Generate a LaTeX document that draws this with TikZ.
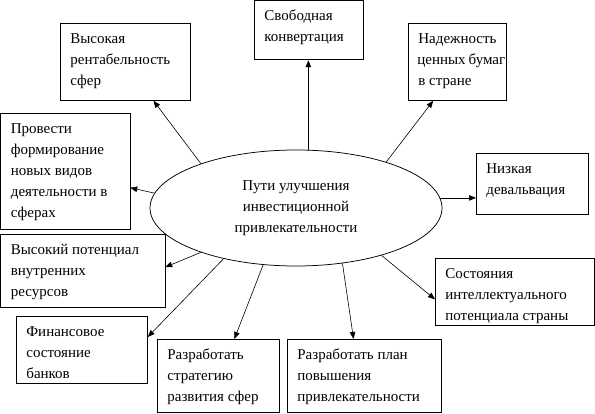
\documentclass[tikz,border=0pt]{standalone}
\usepackage{fontspec}
\setmainfont{Liberation Serif}
\newfontfamily\tnr{Liberation Serif}
\usetikzlibrary{shapes.geometric,arrows.meta,calc}
\newcommand{\bt}[3]{\parbox[c][#2][t]{#1}{\raggedright\leftskip=10pt\hfuzz=20pt\rule{0pt}{20pt}#3}}
\begin{document}
\begin{tikzpicture}[x=1pt,y=-1pt,
  every node/.style={font=\tnr\fontsize{15}{21}\selectfont},
  box/.style={draw, anchor=north west, inner sep=0pt, line width=0.75pt},
  arr/.style={-{Triangle[length=7pt,width=5.5pt]}, line width=0.6pt}]
\useasboundingbox (0,0) rectangle (595,414);
\node[draw, ellipse, line width=0.75pt, minimum width=292pt, minimum height=116pt, inner sep=0pt, align=center] (e) at (296,208) {Пути улучшения\\инвестиционной\\привлекательности};
\node[box] (b1) at (60,23) {\bt{130pt}{77pt}{Высокая\\рентабельность\\сфер}};
\node[box] (b2) at (254,0.5) {\bt{109pt}{59pt}{Свободная\\конвертация}};
\node[box] (b3) at (408,23) {\bt{98pt}{77pt}{Надежность\\\hspace*{-1pt}ценных\hspace{3pt}бумаг\\в~стране}};
\node[box] (b4) at (476,153) {\bt{112pt}{61pt}{Низкая\\девальвация}};
\node[box] (b5) at (0.5,113) {\bt{129pt}{116pt}{Провести\\формирование\\новых~видов\\деятельности~в\\сферах}};
\node[box] (b6) at (0.5,234) {\bt{164pt}{73pt}{Высокий~потенциал\\внутренних\\ресурсов}};
\node[box] (b7) at (16,316) {\bt{131pt}{67pt}{Финансовое\\состояние\\банков}};
\node[box] (b8) at (157,339) {\bt{122pt}{73pt}{Разработать\\стратегию\\развития~сфер}};
\node[box] (b9) at (287,339) {\bt{154pt}{73pt}{Разработать~план\\повышения\\привлекательности}};
\node[box] (b10) at (435,258) {\bt{159pt}{67pt}{Состояния\\интеллектуального\\потенциала~страны}};
\draw[arr] (e.155) -- ($(b1.south west)!0.715!(b1.south east)$);
\draw[arr] (e.78) -- (e.78 |- b2.south);
\draw[arr] (e.27) -- ($(b3.south west)!0.255!(b3.south east)$);
\draw[arr] (e.4) -- (e.4 -| b4.west);
\draw[arr] (e.174) -- ($(b5.north east)!0.64!(b5.south east)$);
\draw[arr] (e.205) -- ($(b6.north east)!0.45!(b6.south east)$);
\draw[arr] (e.215) -- ($(b7.north east)!0.31!(b7.south east)$);
\draw[arr] (e.240) -- ($(b8.north west)!0.63!(b8.north east)$);
\draw[arr] (e.310) -- ($(b9.north west)!0.43!(b9.north east)$);
\draw[arr] (e.331) -- ($(b10.north west)!0.61!(b10.south west)$);
\end{tikzpicture}
\end{document}
